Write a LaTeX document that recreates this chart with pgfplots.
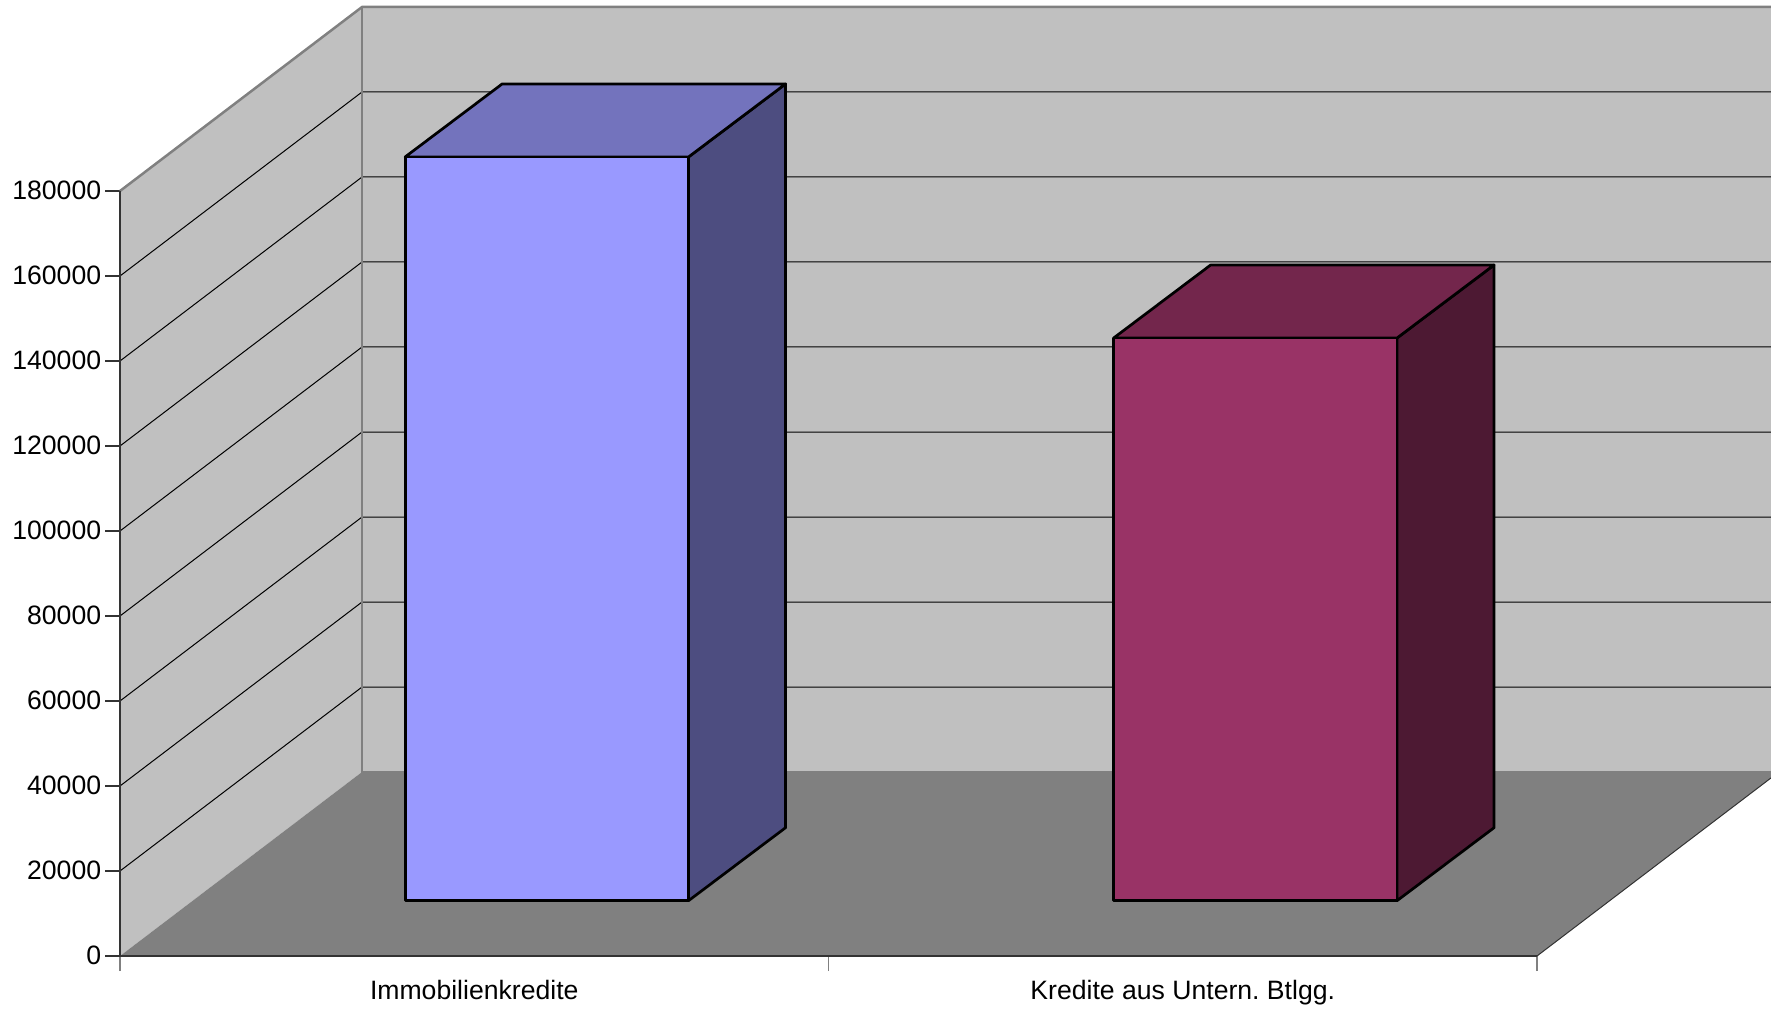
\documentclass[border=0pt]{standalone}
\usepackage{fontspec}
\setmainfont{Liberation Sans}
\usepackage{pgfplots}
\pgfplotsset{compat=1.18}
\definecolor{wall}{HTML}{C0C0C0}
\definecolor{floorc}{HTML}{808080}
\definecolor{edge}{HTML}{808080}
\definecolor{axisc}{HTML}{333333}
\definecolor{blueF}{HTML}{9999FF}
\definecolor{blueT}{HTML}{7373BD}
\definecolor{blueS}{HTML}{4D4D80}
\definecolor{plumF}{HTML}{993366}
\definecolor{plumT}{HTML}{73264C}
\definecolor{plumS}{HTML}{4D1933}
% 1 reference pixel = 0.5pt
\begin{document}
\frenchspacing
\begin{tikzpicture}
  \useasboundingbox (0,0) rectangle (885.5pt,504pt);
  \begin{axis}[
    at={(60pt,26pt)}, anchor=south west,
    scale only axis,
    width=825.5pt, height=478pt,
    xmin=0, xmax=2.3303,
    ymin=0, ymax=224941,
    clip=false,
    axis x line*=bottom, axis y line*=left,
    axis line style={draw=none},
    tick align=outside,
    major tick length=7.5pt, minor tick length=7.5pt,
    xtick={0.5,1.5},
    xticklabels={Immobilienkredite,Kredite aus Untern. Btlgg.},
    minor xtick={0,1,2},
    major x tick style={draw=none},
    minor x tick style={draw=edge,line width=0.6pt},
    ytick={0,20000,40000,60000,80000,100000,120000,140000,160000,180000},
    y tick style={draw=axisc,line width=0.6pt},
    scaled y ticks=false,
    tick label style={font=\fontsize{13.3}{13.3}\selectfont},
    yticklabel style={/pgf/number format/fixed,/pgf/number format/1000 sep={},/pgf/number format/assume math mode=true,xshift=1.6pt,yshift=0.5pt},
    xticklabel style={anchor=base,yshift=-14.3pt},
    unbounded coords=jump,
    bar3d/.style={xshift=36.3pt,yshift=27.65pt,draw=black,line width=1.35pt,line join=round},
  ]
    % walls and floor
    \addplot[fill=wall,draw=none] coordinates {(0.3416,43294)(2.3303,43294)(2.3303,223294)(0.3416,223294)} -- cycle;
    \addplot[fill=wall,draw=none] coordinates {(0,0)(0,180000)(0.3416,223294)(0.3416,43294)} -- cycle;
    \addplot[fill=floorc,draw=none] coordinates {(0,0)(2,0)(2.3303,41900)(2.3303,43294)(0.3416,43294)} -- cycle;
    % grid lines: side wall, then back wall
    \addplot[black,line width=0.5pt] coordinates {
      (0,20000)(0.3416,63294)(2.3303,63294)(0,nan)
      (0,40000)(0.3416,83294)(2.3303,83294)(0,nan)
      (0,60000)(0.3416,103294)(2.3303,103294)(0,nan)
      (0,80000)(0.3416,123294)(2.3303,123294)(0,nan)
      (0,100000)(0.3416,143294)(2.3303,143294)(0,nan)
      (0,120000)(0.3416,163294)(2.3303,163294)(0,nan)
      (0,140000)(0.3416,183294)(2.3303,183294)(0,nan)
      (0,160000)(0.3416,203294)(2.3303,203294)
    };
    % wall edges
    \addplot[edge,line width=1.25pt] coordinates {(0,180000)(0.3416,223294)(2.3303,223294)};
    \addplot[edge,line width=1.25pt] coordinates {(0.3416,223294)(0.3416,43294)(2.3303,43294)};
    % front edges
    \addplot[axisc,line width=0.9pt] coordinates {(0,180000)(0,0)(2,0)};
    \addplot[axisc,line width=0.5pt] coordinates {(2,0)(2.3303,41900)};
    % Immobilienkredite
    \addplot[bar3d,fill=blueS] coordinates {(0.7,0)(0.8369,17176)(0.8369,192176)(0.7,175000)} -- cycle;
    \addplot[bar3d,fill=blueT] coordinates {(0.3,175000)(0.7,175000)(0.8369,192176)(0.4369,192176)} -- cycle;
    \addplot[bar3d,ybar,bar shift=0pt,bar width=0.4,fill=blueF] coordinates {(0.5,175000)};
    % Kredite aus Untern. Btlgg.
    \addplot[bar3d,fill=plumS] coordinates {(1.7,0)(1.8369,17176)(1.8369,149576)(1.7,132400)} -- cycle;
    \addplot[bar3d,fill=plumT] coordinates {(1.3,132400)(1.7,132400)(1.8369,149576)(1.4369,149576)} -- cycle;
    \addplot[bar3d,ybar,bar shift=0pt,bar width=0.4,fill=plumF] coordinates {(1.5,132400)};
  \end{axis}
\end{tikzpicture}
\end{document}
